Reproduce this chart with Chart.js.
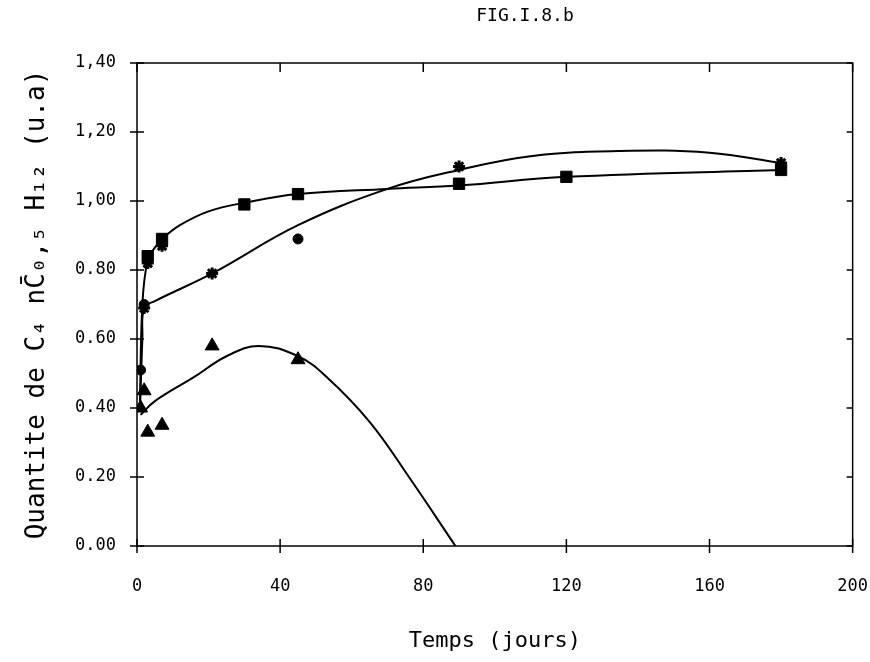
<!DOCTYPE html>
<html>
<head>
<meta charset="utf-8">
<script src="https://cdn.jsdelivr.net/npm/chart.js@4/dist/chart.umd.min.js"></script>
<style>
  html, body { margin: 0; padding: 0; background: #fff; }
  #chart { display: block; }
</style>
</head>
<body>
<canvas id="chart" width="870" height="662"></canvas>
<script>
// measured points (days, value)
const squareDays = [3, 7, 30, 45, 90, 120, 180]
const squareValues = [0.84, 0.89, 0.99, 1.02, 1.05, 1.07, 1.09]
const starDays = [2, 3, 7, 21, 90, 180]
const starValues = [0.69, 0.82, 0.87, 0.79, 1.10, 1.11]
const circleDays = [1, 2, 45]
const circleValues = [0.51, 0.70, 0.89]
const triangleDays = [1, 2, 3, 7, 21, 45]
const triangleValues = [0.40, 0.45, 0.33, 0.35, 0.58, 0.54]

// fitted curves
const squareCurveDays = [0.8, 1.5, 3, 5, 7, 12, 20, 30, 45, 70, 90, 120, 180]
const squareCurveValues = [0.39, 0.70, 0.83, 0.865, 0.89, 0.93, 0.97, 0.995, 1.02, 1.035, 1.045, 1.07, 1.09]
const starCurveDays = [0.8, 1.5, 2, 5, 21, 45, 70, 90, 110, 135, 160, 180]
const starCurveValues = [0.39, 0.60, 0.69, 0.71, 0.79, 0.93, 1.035, 1.09, 1.13, 1.145, 1.14, 1.11]
const triangleCurveDays = [1, 5, 16, 25, 34, 45, 53, 65, 76, 89]
const triangleCurveValues = [0.38, 0.42, 0.49, 0.55, 0.58, 0.55, 0.49, 0.36, 0.20, 0.0]

const xTickLabels = ['0', '40', '80', '120', '160', '200']
const yTickLabels = ['0.00', '0.20', '0.40', '0.60', '0.80', '1,00', '1,20', '1,40']

const monoFont = '"DejaVu Sans Mono", "Liberation Mono", monospace'

function toPoints(xs, ys) {
  return xs.map((x, i) => ({x: x, y: ys[i]}))
}

function curve(xs, ys) {
  return {
    type: 'line',
    data: toPoints(xs, ys),
    borderColor: '#000',
    borderWidth: 2,
    pointRadius: 0,
    tension: 0.4,
    fill: false
  }
}

function markers(xs, ys, style, radius, width) {
  return {
    type: 'scatter',
    data: toPoints(xs, ys),
    showLine: false,
    pointStyle: style,
    pointRadius: radius,
    pointBackgroundColor: '#000',
    pointBorderColor: '#000',
    pointBorderWidth: width
  }
}

// frame, tick marks and figure caption
const framePlugin = {
  id: 'frame',
  afterDraw(chart) {
    const ctx = chart.ctx
    const a = chart.chartArea
    const xs = chart.scales.x
    const ys = chart.scales.y
    ctx.save()
    ctx.strokeStyle = '#000'
    ctx.lineWidth = 1.5
    ctx.strokeRect(a.left, a.top, a.right - a.left, a.bottom - a.top)
    ctx.beginPath()
    for (let i = 0; i < xTickLabels.length; i += 1) {
      const px = xs.getPixelForValue(i * 40)
      ctx.moveTo(px, a.bottom - 7)
      ctx.lineTo(px, a.bottom + 7)
      ctx.moveTo(px, a.top)
      ctx.lineTo(px, a.top + 9)
    }
    for (let i = 0; i < yTickLabels.length; i += 1) {
      const py = ys.getPixelForValue(i * 0.2)
      ctx.moveTo(a.left - 7, py)
      ctx.lineTo(a.left + 7, py)
      ctx.moveTo(a.right - 6, py)
      ctx.lineTo(a.right, py)
    }
    ctx.stroke()
    ctx.fillStyle = '#000'
    ctx.font = '18px ' + monoFont
    ctx.textAlign = 'center'
    ctx.textBaseline = 'middle'
    ctx.fillText('FIG.I.8.b', 525, 16)
    ctx.restore()
  }
}

new Chart(document.getElementById('chart'), {
  data: {
    datasets: [
      curve(squareCurveDays, squareCurveValues),
      curve(starCurveDays, starCurveValues),
      curve(triangleCurveDays, triangleCurveValues),
      markers(squareDays, squareValues, 'rect', 8, 1),
      markers(starDays, starValues, 'star', 6, 3),
      markers(circleDays, circleValues, 'circle', 5, 1),
      markers(triangleDays, triangleValues, 'triangle', 8, 1)
    ]
  },
  options: {
    responsive: false,
    animation: false,
    devicePixelRatio: 1,
    layout: {padding: {top: 63, right: 0, left: 0, bottom: 0}},
    plugins: {
      legend: {display: false},
      tooltip: {enabled: false}
    },
    scales: {
      x: {
        type: 'linear',
        min: 0,
        max: 200,
        // invisible tick marks only push the labels down
        grid: {display: true, drawOnChartArea: false, drawTicks: true, tickLength: 28, color: 'rgba(0,0,0,0)'},
        border: {display: false},
        ticks: {
          stepSize: 40,
          padding: 2,
          color: '#000',
          font: {family: monoFont, size: 17},
          callback: (v) => xTickLabels[Math.round(v / 40)]
        },
        title: {
          display: true,
          text: 'Temps (jours)',
          color: '#000',
          font: {family: monoFont, size: 22},
          padding: {top: 0, bottom: 8}
        },
        afterFit: (s) => { s.height = 116 }
      },
      y: {
        type: 'linear',
        min: 0,
        max: 1.4,
        grid: {display: false},
        border: {display: false},
        ticks: {
          stepSize: 0.2,
          padding: 13,
          color: '#000',
          font: {family: monoFont, size: 17},
          callback: (v) => yTickLabels[Math.round(v / 0.2)]
        },
        title: {
          display: true,
          text: 'Quantite de C\u2084 nC\u0304\u2080,\u2085 H\u2081\u2082 (u.a)',
          color: '#000',
          font: {family: monoFont, size: 26},
          padding: {top: 22, bottom: 0}
        },
        afterFit: (s) => { s.width = 137 }
      }
    }
  },
  plugins: [framePlugin]
})
</script>
</body>
</html>
